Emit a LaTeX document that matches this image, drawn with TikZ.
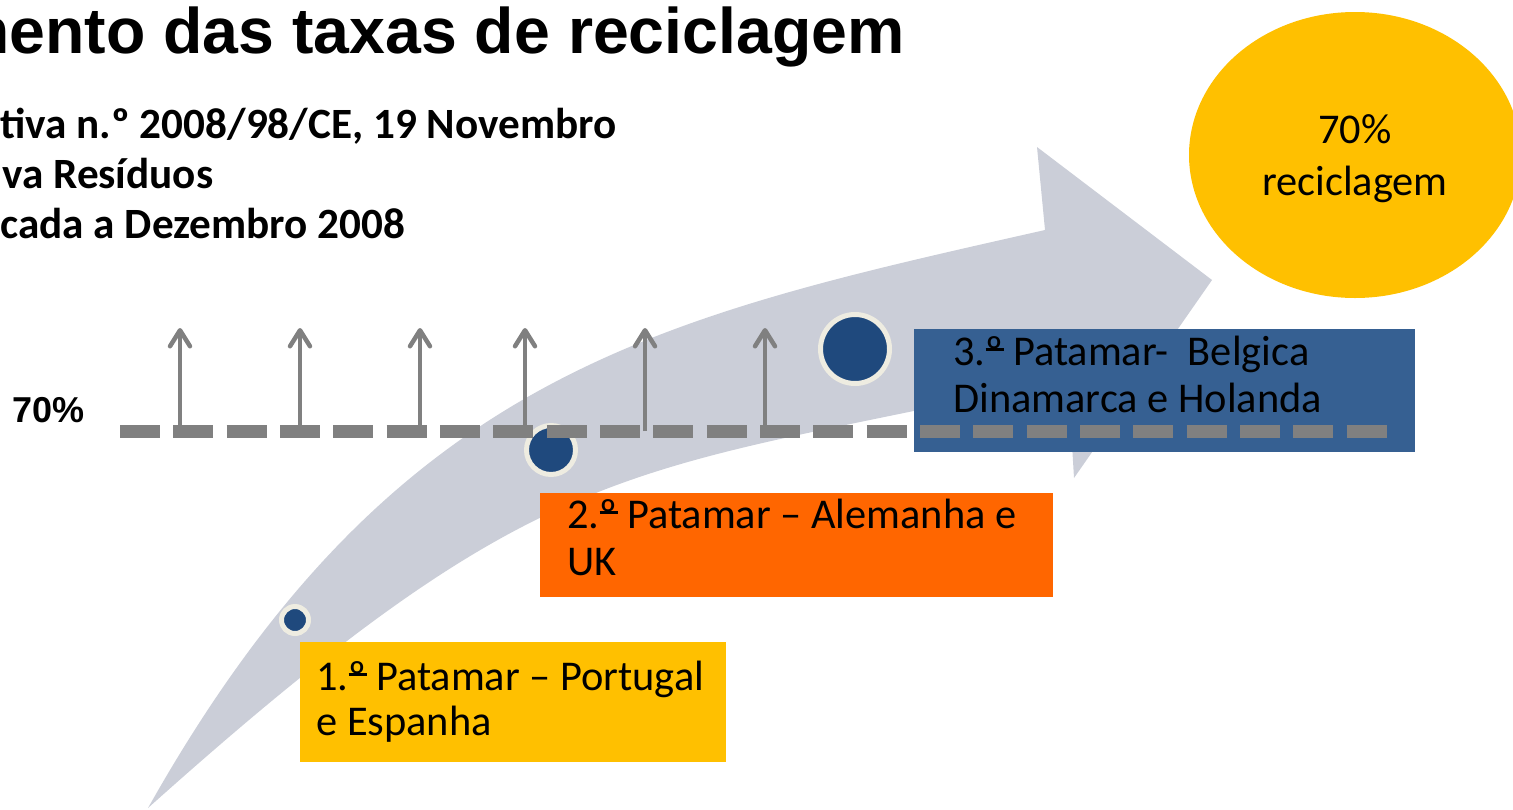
\documentclass[tikz,border=0pt]{standalone}
\usepackage{fontspec}
\setmainfont{Carlito}
\newfontfamily\arialfont{Liberation Sans}
\newfontfamily\subfont{Carlito}
\usetikzlibrary{arrows.meta}
\newcommand\ordbar{\leavevmode\setbox0\hbox{º}\rlap{\raisebox{0.34em}{\rule{\wd0}{0.055em}}}\box0}
\definecolor{arrowgray}{RGB}{203,206,216}
\definecolor{dotblue}{RGB}{31,73,125}
\definecolor{ringcream}{RGB}{238,236,225}
\definecolor{dashgray}{RGB}{128,128,128}
\definecolor{boxyellow}{RGB}{255,192,0}
\definecolor{boxorange}{RGB}{255,102,0}
\definecolor{boxblue}{RGB}{54,96,146}
\tikzset{
  txt/.style={anchor=base west, inner sep=0pt, font=\fontsize{21.2}{25}\selectfont},
  subtxt/.style={anchor=base west, inner sep=0pt, font=\subfont\bfseries\fontsize{21.6}{26}\selectfont},
  stagebox/.style={anchor=north west, inner sep=0pt, draw=none},
  dot/.style={circle, inner sep=0pt, fill=dotblue, draw=ringcream, line width=2.5pt},
  levelline/.style={dashgray, line width=6.5pt, dash pattern=on 20pt off 6.667pt},
  uparrow/.style={dashgray, line width=2.25pt, -{Straight Barb[length=8pt,width=10pt,round]}}
}
\begin{document}
\begin{tikzpicture}[x=0.5pt,y=-0.5pt]
\useasboundingbox (0,0) rectangle (1513,809);
\clip (0,0) rectangle (1513,809);
% big curved arrow
\fill[arrowgray] (148,808) .. controls (393,373) and (655,318) .. (1045,230)
  -- (1037,147) -- (1212,280) -- (1074,478) -- (1068,378)
  .. controls (629,477) and (558,441) .. (148,808) -- cycle;
% goal ellipse
\fill[boxyellow] (1355,155) ellipse [x radius=83pt, y radius=71.5pt];
\node[anchor=base, inner sep=0pt, font=\fontsize{21.2}{25}\selectfont] (goal1) at (1355,143) {70\%};
\node[anchor=base, inner sep=0pt, font=\fontsize{21.2}{25}\selectfont] (goal2) at (1355,195) {reciclagem};
% title and subtitle
\node[anchor=base east, inner sep=0pt, font=\arialfont\bfseries\fontsize{32.2}{38}\selectfont] (title) at (905,53) {mento das taxas de reciclagem};
\node[subtxt] (sub1) at (0,138) {tiva n.º 2008/98/CE, 19 Novembro};
\node[subtxt] (sub2) at (2,188) {va Resíduos};
\node[subtxt] (sub3) at (0,238) {cada a Dezembro 2008};
\node[anchor=base west, inner sep=0pt, font=\arialfont\bfseries\fontsize{18}{22}\selectfont] (lvl) at (12,422) {70\%};
% dots
\node[dot, minimum size=13.5pt] (d1) at (295,620) {};
\node[dot, minimum size=24.5pt] (d2) at (551,450) {};
\node[dot, minimum size=34.5pt] (d3) at (855,349) {};
% stage boxes
\node[stagebox, fill=boxyellow, minimum width=213pt, minimum height=60pt] (b1) at (300,642) {};
\node[stagebox, fill=boxorange, minimum width=256.5pt, minimum height=52pt] (b2) at (540,493) {};
\node[stagebox, fill=boxblue, minimum width=250.5pt, minimum height=61.5pt] (b3) at (914,329) {};
\node[txt] (t1a) at (316,690) {1.\ordbar{} Patamar – Portugal};
\node[txt] (t1b) at (316,735) {e Espanha};
\node[txt] (t2a) at (567,528) {2.\ordbar{} Patamar – Alemanha e};
\node[txt] (t2b) at (567,575) {UK};
\node[txt] (t3a) at (953,365) {3.\ordbar{} Patamar-~ Belgica};
\node[txt] (t3b) at (953,412) {Dinamarca e Holanda};
% 70% level line
\coordinate (ls) at (120,431.5);
\coordinate (le) at (1387,431.5);
\draw[levelline] (ls) -- (le);
% upward arrows
\foreach \x [count=\i] in {180,300,420,525,645,765} {
  \coordinate (ab\i) at (\x,431);
  \coordinate (at\i) at (\x,328);
  \draw[uparrow] (ab\i) -- (at\i);
}
\end{tikzpicture}
\end{document}
